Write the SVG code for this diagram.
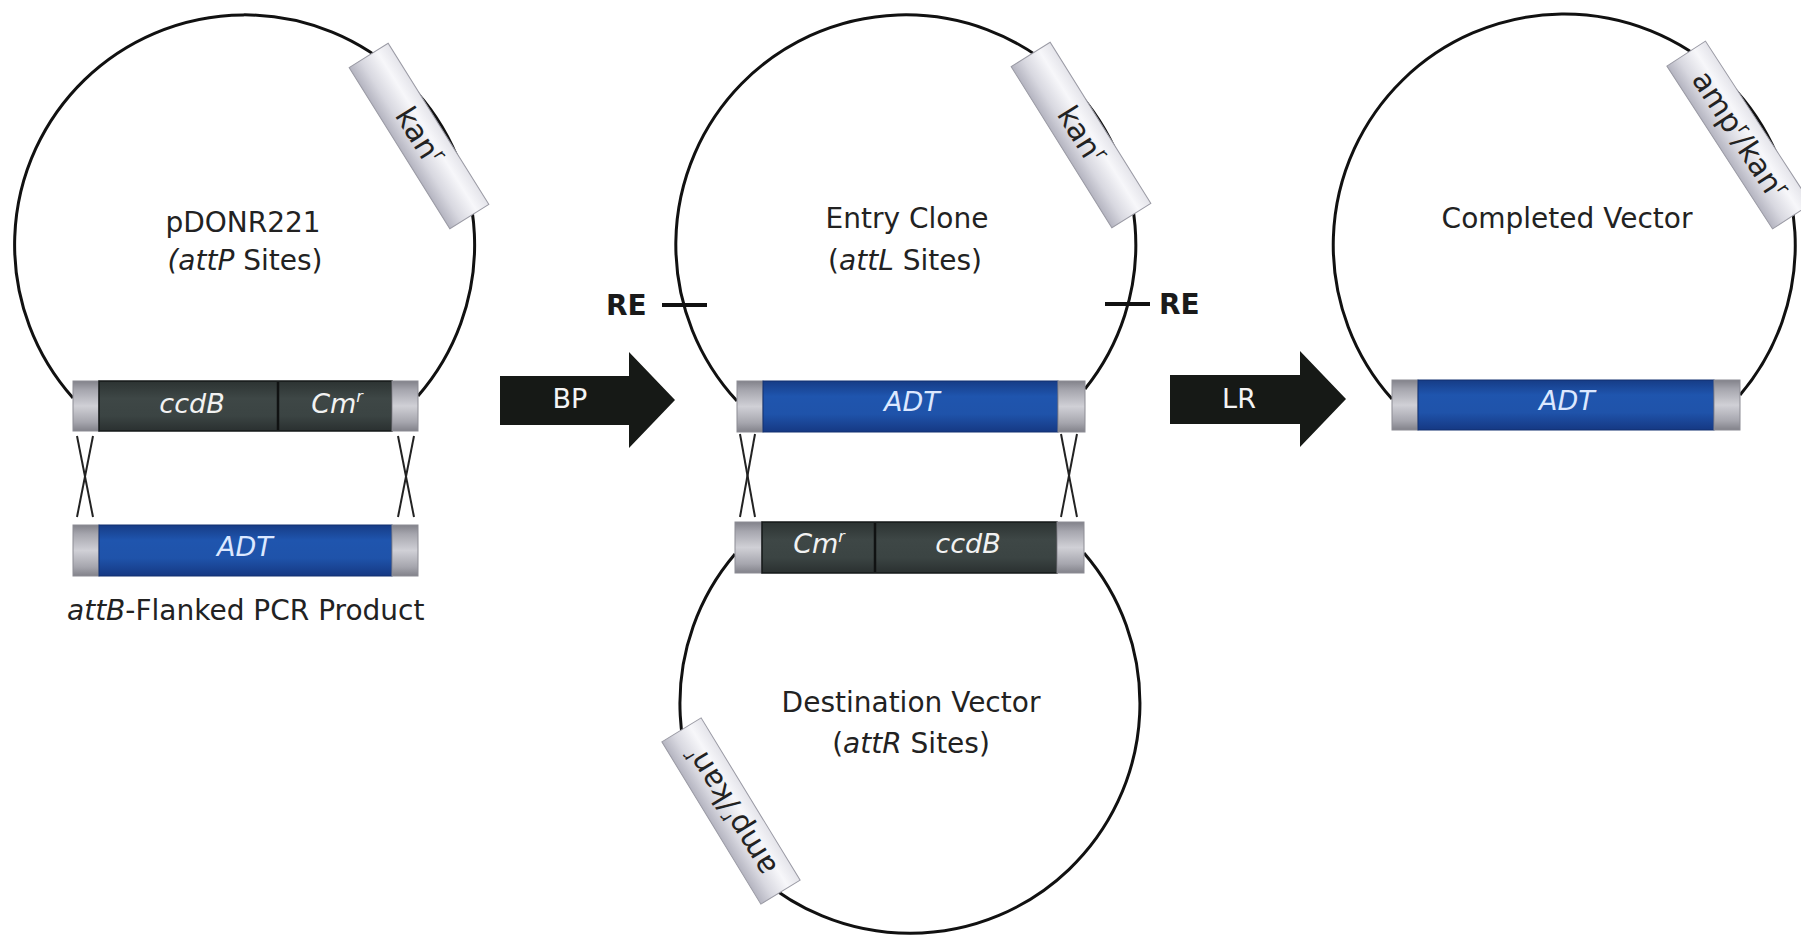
<svg xmlns="http://www.w3.org/2000/svg" width="1801" height="935" viewBox="0 0 1801 935">
<defs>
<linearGradient id="gCap" x1="0" y1="0" x2="0" y2="1">
<stop offset="0" stop-color="#82828a"/><stop offset="0.18" stop-color="#a6a6ae"/><stop offset="0.5" stop-color="#d0d0d6"/><stop offset="0.82" stop-color="#a6a6ae"/><stop offset="1" stop-color="#82828a"/>
</linearGradient>
<linearGradient id="gBlue" x1="0" y1="0" x2="0" y2="1">
<stop offset="0" stop-color="#163c86"/><stop offset="0.3" stop-color="#1f55ae"/><stop offset="0.65" stop-color="#1f53aa"/><stop offset="1" stop-color="#153883"/>
</linearGradient>
<linearGradient id="gDark" x1="0" y1="0" x2="0" y2="1">
<stop offset="0" stop-color="#2c3332"/><stop offset="0.35" stop-color="#3e4746"/><stop offset="0.7" stop-color="#3b4443"/><stop offset="1" stop-color="#2a3030"/>
</linearGradient>
<linearGradient id="gBox" x1="0" y1="0" x2="0" y2="1">
<stop offset="0" stop-color="#e4e4ea"/><stop offset="0.3" stop-color="#f7f7fa"/><stop offset="0.7" stop-color="#d8d8e0"/><stop offset="1" stop-color="#b4b4c0"/>
</linearGradient>
</defs>
<style>
text{font-family:"DejaVu Sans","Liberation Sans",sans-serif;font-size:28px;fill:#222;}
.lbl{text-anchor:middle;}
.it{font-style:italic;}
.bt{font-style:italic;fill:#f2f2f2;text-anchor:middle;font-size:27px;}
.adt{font-style:italic;fill:#dce8ff;text-anchor:middle;font-size:27px;}
.wt{fill:#f4f4f4;text-anchor:middle;font-size:27px;}
.re{font-weight:bold;fill:#1a1a1a;font-size:28px;}
.bx{text-anchor:middle;font-size:30px;}
.ring{fill:none;stroke:#111;stroke-width:3;}
.cap{fill:url(#gCap);stroke:#8c8c94;stroke-width:1;}
.blue{fill:url(#gBlue);stroke:#123070;stroke-width:1;}
.dark{fill:url(#gDark);stroke:#151818;stroke-width:1.5;}
.div{stroke:#101212;stroke-width:2.5;}
.box{fill:url(#gBox);stroke:#9a9aa4;stroke-width:1;}
.tick{stroke:#111;stroke-width:4;}
.cross{stroke:#222;stroke-width:2;fill:none;}
.arrow{fill:#161916;}
</style>
<rect width="1801" height="935" fill="#ffffff"/>

<g id="pDONR221">
<path class="ring" d="M 73 398 A 230 230 0 1 1 418 396"/>
<g transform="translate(419,136) rotate(58)">
<rect class="box" x="-95" y="-23" width="190" height="46"/>
<text class="bx" x="0" y="10">kan<tspan font-size="18" dy="-12">r</tspan></text>
</g>
<text class="lbl" x="243" y="232">pDONR221</text>
<text class="lbl" x="245" y="270"><tspan class="it">(attP</tspan> Sites)</text>
<rect class="cap" x="73" y="381" width="26" height="50"/>
<rect class="dark" x="99" y="381" width="293" height="50"/>
<rect class="cap" x="392" y="381" width="26" height="50"/>
<line class="div" x1="278" y1="382" x2="278" y2="430"/>
<text class="bt" x="192" y="413">ccdB</text>
<text class="bt" x="337" y="413">Cm<tspan font-size="16" dy="-11">r</tspan></text>
</g>

<g id="attB-PCR-product">
<rect class="cap" x="73" y="525" width="26" height="51"/>
<rect class="blue" x="99" y="525" width="293" height="51"/>
<rect class="cap" x="392" y="525" width="26" height="51"/>
<text class="adt" x="245" y="556">ADT</text>
<text x="67" y="620"><tspan class="it">attB</tspan>-Flanked PCR Product</text>
</g>

<g id="entry-clone">
<path class="ring" d="M 737 401 A 230 230 0 1 1 1085 389"/>
<line class="tick" x1="662" y1="305" x2="707" y2="305"/>
<line class="tick" x1="1105" y1="304" x2="1150" y2="304"/>
<text class="re" x="606" y="315">RE</text>
<text class="re" x="1159" y="314">RE</text>
<g transform="translate(1081,135) rotate(58)">
<rect class="box" x="-95" y="-23" width="190" height="46"/>
<text class="bx" x="0" y="10">kan<tspan font-size="18" dy="-12">r</tspan></text>
</g>
<text class="lbl" x="907" y="228">Entry Clone</text>
<text class="lbl" x="905" y="270">(<tspan class="it">attL</tspan> Sites)</text>
<rect class="cap" x="737" y="381" width="26" height="51"/>
<rect class="blue" x="763" y="381" width="295" height="51"/>
<rect class="cap" x="1058" y="381" width="27" height="51"/>
<text class="adt" x="912" y="411">ADT</text>
</g>

<g id="destination-vector">
<path class="ring" d="M 735 554 A 230 230 0 1 0 1084 553"/>
<g transform="translate(731,811) rotate(58.6)">
<rect class="box" x="-95" y="-23" width="190" height="46"/>
<text class="bx" x="0" y="10" transform="rotate(180)">amp<tspan font-size="18" dy="-12">r</tspan><tspan dy="12">/kan</tspan><tspan font-size="18" dy="-12">r</tspan></text>
</g>
<text class="lbl" x="911" y="712">Destination Vector</text>
<text class="lbl" x="911" y="753">(<tspan class="it">attR</tspan> Sites)</text>
<rect class="cap" x="735" y="522" width="27" height="51"/>
<rect class="dark" x="762" y="522" width="295" height="51"/>
<rect class="cap" x="1057" y="522" width="27" height="51"/>
<line class="div" x1="875" y1="523" x2="875" y2="572"/>
<text class="bt" x="819" y="553">Cm<tspan font-size="16" dy="-11">r</tspan></text>
<text class="bt" x="968" y="553">ccdB</text>
</g>

<g id="completed-vector">
<path class="ring" d="M 1392 399 A 231 231 0 1 1 1740 395"/>
<g transform="translate(1739,135) rotate(57)">
<rect class="box" x="-97" y="-23" width="194" height="46"/>
<text class="bx" x="0" y="10">amp<tspan font-size="18" dy="-12">r</tspan><tspan dy="12">/kan</tspan><tspan font-size="18" dy="-12">r</tspan></text>
</g>
<text class="lbl" x="1567" y="228">Completed Vector</text>
<rect class="cap" x="1392" y="380" width="26" height="50"/>
<rect class="blue" x="1418" y="380" width="296" height="50"/>
<rect class="cap" x="1714" y="380" width="26" height="50"/>
<text class="adt" x="1567" y="410">ADT</text>
</g>

<g id="connectors">
<g id="cross-bp">
<line class="cross" x1="77" y1="436" x2="93" y2="517"/>
<line class="cross" x1="93" y1="436" x2="77" y2="517"/>
<line class="cross" x1="398" y1="436" x2="414" y2="517"/>
<line class="cross" x1="414" y1="436" x2="398" y2="517"/>
</g>
<g id="cross-lr">
<line class="cross" x1="740" y1="434" x2="755" y2="517"/>
<line class="cross" x1="755" y1="434" x2="740" y2="517"/>
<line class="cross" x1="1061" y1="434" x2="1077" y2="517"/>
<line class="cross" x1="1077" y1="434" x2="1061" y2="517"/>
</g>
<g id="arrow-bp">
<polygon class="arrow" points="500,376 629,376 629,352 675,400 629,448 629,425 500,425"/>
<text class="wt" x="570" y="408">BP</text>
</g>
<g id="arrow-lr">
<polygon class="arrow" points="1170,375 1300,375 1300,351 1346,399 1300,447 1300,424 1170,424"/>
<text class="wt" x="1239" y="408">LR</text>
</g>
</g>
</svg>
